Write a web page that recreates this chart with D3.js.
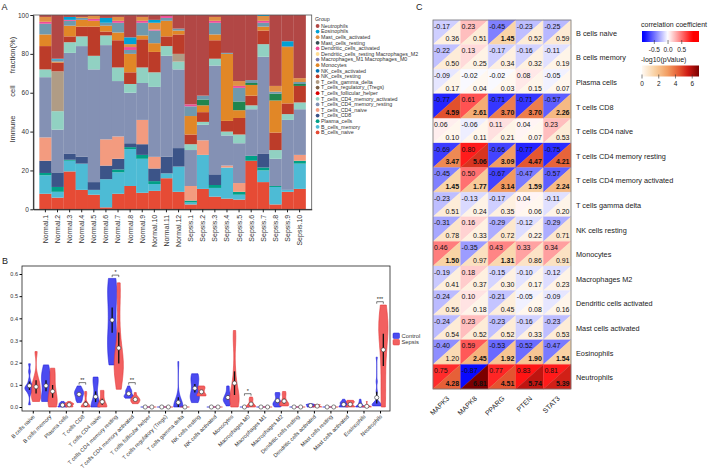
<!DOCTYPE html>
<html><head><meta charset="utf-8">
<script src="https://cdn.jsdelivr.net/npm/d3@7"></script>
<style>
body{margin:0;background:#fff;}
svg{font-family:"Liberation Sans",Arial,sans-serif;}
</style></head><body>
<svg id="chart" width="708" height="471"></svg>
<script>
// ---------------- DATA ----------------
const samples = ["Normal.1","Normal.2","Normal.3","Normal.4","Normal.5","Normal.6","Normal.7","Normal.8","Normal.9","Normal.10","Normal.11","Normal.12",
  "Sepsis.1","Sepsis.2","Sepsis.3","Sepsis.4","Sepsis.5","Sepsis.6","Sepsis.7","Sepsis.8","Sepsis.9","Sepsis.10"];

// immune cell fractions (%) per sample
const B_cells_naive = [8,6,19.5,10,7.5,1,8,12,8.5,9.5,16,9, 2.5,10.5,6.5,5.5,5,25,14,2.5,9,10.5];
const B_cells_memory = [9.5,3,5.5,13.5,2.5,14.5,11,19,17.5,3.5,2.5,13, 1,17.5,4.5,16,2.5,0,6,9,1,13];
const Plasma_cells = [1.2,2.5,0.5,0,0,0,1.5,1,2,1.5,0,0, 1,0,1.5,0,1.5,2.5,1.5,0.5,0,1.5];
const T_cells_CD8 = [6.3,7.5,3,3.5,4,7,5.5,2,5.5,6.5,8.5,9.5, 0,0,5.5,0,0,0,7,0,0,0];
const T_cells_CD4_naive = [12,0,0,0,0,13.5,11.5,0,12.5,6,0,0, 7.5,7.5,0,1,4.5,0,0,0,0,3];
const T_cells_CD4_memory_resting = [31,22,52,57,58,48.5,28.5,26,19,36,52,40.5, 18.5,8,56,15.5,20.5,24,50,14,36,23.5];
const T_cells_CD4_memory_activated = [4,9.5,5.5,5,7,5,7,4.5,8,7.5,5,4, 3,1.5,3.5,2,4.5,2,6.5,4.5,3,3.5];
const T_cells_follicular_helper = [0,0,0,0,0,0,0,0,0,0,0,0, 0,0,0,0,0,0,0,0,0,0];
const T_cells_regulatory_Tregs = [0,0,0,0,0,0,0,0,0,0,0,0, 0,0,0,0,0,0,0,0,0,0];
const T_cells_gamma_delta = [0,20.5,0,0,0,0,0,0,0,0,0,4, 0,0,0,0,0,0,0,0,0,0];
const NK_cells_resting = [12,4.5,3,5,15,2,14,6,14.5,10.5,5,10, 5,5,9.5,5.5,8.5,5,7,9,5.5,8.5];
const NK_cells_activated = [0,0,0,0,0,0,0,0,0,0,0,0, 0,0,0,0,0,0,0,0,0,0];
const Monocytes = [6,0.5,5.5,3.5,3,3,4,9.5,2,4.5,8,2, 9.5,3.5,3,34.5,4,5.5,2,16.5,29,0];
const Macrophages_M0 = [0,0,0,0,0,0,0,0,0,0,0,0, 0,3,0,0,4.5,1,0,3.5,0,1];
const Macrophages_M1 = [0,0,0,0,0,0,0,0,0,0,0,0, 0,0,0,0,0,0,0,0,0,0];
const Macrophages_M2 = [5.5,1,2.5,1,0,1.5,5,2,6.5,6.5,1.5,1, 5,2,6,0.5,7,1.5,2,1,0.5,1];
const Dendritic_cells_resting = [0,0,0,0,0,0,0,0,0,0,0,0, 0,0,0,0,0,0,0,0,0,0];
const Dendritic_cells_activated = [1,0,0.5,0,1,0,1,1.5,1,0.5,1,0, 1,0,1,0,1,0,1,0,0,0];
const Mast_cells_resting = [0,0,0,0,0,0,0,0,0,0,0,0, 0,0,0,0,0,0,0,0,0,0];
const Mast_cells_activated = [2.5,0,0,0.5,1.5,0,2,1.5,2,3.5,0,0, 0,0,2,0,2.5,0,2.5,3,0,2];
const Eosinophils = [0,0.5,1.5,0,0,2.5,0,3.5,0,1.5,0,0, 0,0,0,0,0,0,0.5,0,2.5,0];
const Neutrophils = [1,22.5,1,1,0.5,1.5,1,11.5,1,2.5,0.5,7, 46,41.5,1,19.5,34,33.5,0,36.5,13.5,32.5];

const cellTypes = ["B_cells_naive","B_cells_memory","Plasma_cells","T_cells_CD8","T_cells_CD4_naive","T_cells_CD4_memory_resting",
  "T_cells_CD4_memory_activated","T_cells_follicular_helper","T_cells_regulatory_(Tregs)","T_cells_gamma_delta","NK_cells_resting",
  "NK_cells_activated","Monocytes","Macrophages_M0","Macrophages_M1","Macrophages_M2","Dendritic_cells_resting",
  "Dendritic_cells_activated","Mast_cells_resting","Mast_cells_activated","Eosinophils","Neutrophils"];
const cellValues = [B_cells_naive,B_cells_memory,Plasma_cells,T_cells_CD8,T_cells_CD4_naive,T_cells_CD4_memory_resting,
  T_cells_CD4_memory_activated,T_cells_follicular_helper,T_cells_regulatory_Tregs,T_cells_gamma_delta,NK_cells_resting,
  NK_cells_activated,Monocytes,Macrophages_M0,Macrophages_M1,Macrophages_M2,Dendritic_cells_resting,
  Dendritic_cells_activated,Mast_cells_resting,Mast_cells_activated,Eosinophils,Neutrophils];
const cellColors = ["#E64B35","#4DBBD5","#00A087","#3C5488","#F39B7F","#8491B4","#91D1C2","#DC0000","#7E6148","#B09C85",
  "#BC3C29","#0072B5","#E18727","#20854E","#7876B1","#6F99AD","#FFDC91","#EE4C97","#374E55","#DF8F44","#00A1D5","#B24745"];
const violinLabels = ["B cells naive","B cells memory","Plasma cells","T cells CD8","T cells CD4 naive","T cells CD4 memory resting",
  "T cells CD4 memory activated","T cells follicular helper","T cells regulatory (Tregs)","T cells gamma delta","NK cells resting",
  "NK cells activated","Monocytes","Macrophages M0","Macrophages M1","Macrophages M2","Dendritic cells resting",
  "Dendritic cells activated","Mast cells resting","Mast cells activated","Eosinophils","Neutrophils"];

// legend rows of panel A (as printed)
const legendLabels = ["Neutrophils","Eosinophils","Mast_cells_activated","Mast_cells_resting","Dendritic_cells_activated",
  "Dendritic_cells_resting Macrophages_M2","Macrophages_M1 Macrophages_M0","Monocytes","NK_cells_activated","NK_cells_resting",
  "T_cells_gamma_delta","T_cells_regulatory_(Tregs)","T_cells_follicular_helper","T_cells_CD4_memory_activated",
  "T_cells_CD4_memory_resting","T_cells_CD4_naive","T_cells_CD8","Plasma_cells","B_cells_memory","B_cells_naive"];
const legendKeys = ["Neutrophils","Eosinophils","Mast_cells_activated","Mast_cells_resting","Dendritic_cells_activated",
  "Dendritic_cells_resting","Macrophages_M1","Monocytes","NK_cells_activated","NK_cells_resting",
  "T_cells_gamma_delta","T_cells_regulatory_(Tregs)","T_cells_follicular_helper","T_cells_CD4_memory_activated",
  "T_cells_CD4_memory_resting","T_cells_CD4_naive","T_cells_CD8","Plasma_cells","B_cells_memory","B_cells_naive"];

// significance (panel B)
const sigCells = ["T cells CD8","T cells CD4 memory resting","T cells CD4 memory activated","Macrophages M0","Neutrophils"];
const sigMarks = ["**","*","**","*","***"];
const groupNames = ["Control","Sepsis"];
const groupColors = ["#4B4BF0","#F26060"];
const groupStrokes = ["#1E1ED8","#E23636"];

// heatmap (panel C)
const heatRows = ["B cells naive","B cells memory","Plasma cells","T cells CD8","T cells CD4 naive","T cells CD4 memory resting",
  "T cells CD4 memory activated","T cells gamma delta","NK cells resting","Monocytes","Macrophages M2",
  "Dendritic cells activated","Mast cells activated","Eosinophils","Neutrophils"];
const genes = ["MAPK3","MAPK8","PPARG","PTEN","STAT3"];
const corr_MAPK3 = [-0.17,-0.22,-0.09,-0.77,0.06,-0.69,-0.45,-0.23,-0.31,0.46,-0.19,-0.24,-0.24,-0.40,0.75];
const corr_MAPK8 = [0.23,0.13,-0.02,0.61,-0.06,0.80,0.50,-0.13,0.16,-0.35,0.18,0.10,0.23,0.59,-0.87];
const corr_PPARG = [-0.45,-0.17,-0.02,-0.71,0.11,-0.66,-0.67,-0.17,-0.29,0.43,-0.15,-0.21,-0.23,-0.53,0.77];
const corr_PTEN = [-0.23,-0.16,0.08,-0.71,0.04,-0.77,-0.47,0.04,-0.12,0.33,-0.10,-0.05,-0.16,-0.52,0.83];
const corr_STAT3 = [-0.25,-0.11,-0.05,-0.57,0.23,-0.75,-0.57,-0.11,-0.29,0.34,-0.12,-0.09,-0.23,-0.47,0.81];
const logp_MAPK3 = [0.36,0.50,0.17,4.59,0.10,3.47,1.45,0.51,0.78,1.50,0.41,0.56,0.54,1.20,4.28];
const logp_MAPK8 = [0.51,0.25,0.04,2.61,0.11,5.06,1.77,0.24,0.33,0.97,0.37,0.18,0.52,2.45,6.81];
const logp_PPARG = [1.45,0.34,0.03,3.70,0.21,3.09,3.14,0.35,0.72,1.31,0.30,0.45,0.52,1.92,4.51];
const logp_PTEN = [0.52,0.32,0.15,3.70,0.07,4.47,1.59,0.06,0.22,0.86,0.17,0.08,0.33,1.90,5.74];
const logp_STAT3 = [0.59,0.19,0.07,2.26,0.53,4.21,2.24,0.20,0.71,0.91,0.23,0.16,0.53,1.54,5.39];
const corrCols = [corr_MAPK3,corr_MAPK8,corr_PPARG,corr_PTEN,corr_STAT3];
const logpCols = [logp_MAPK3,logp_MAPK8,logp_PPARG,logp_PTEN,logp_STAT3];
const corrTicks = [-0.5,0,0.5];
const logpTicks = [0,2,4,6];

// ---------------- DRAW ----------------
const FONT = "'Liberation Sans', Arial, sans-serif";
const svg = d3.select("#chart");
const defs = svg.append("defs");

function panelLabel(t,x,y){ svg.append("text").attr("x",x).attr("y",y).text(t).attr("font-size",9).attr("fill","#222"); }
panelLabel("A",1.5,9.5); panelLabel("B",2,263.5); panelLabel("C",416,9.5);

// ===== Panel A =====
const A = {l:33.3, r:311.7, t:15, b:209.3};
const xA = d3.scaleBand().domain(samples).range([A.l, A.r]).paddingInner(0).paddingOuter(0.5);
const yA = d3.scaleLinear().domain([0,100]).range([A.b, A.t]);
const rowsA = samples.map((s,i)=>{ const o={sample:s}; cellTypes.forEach((c,k)=>o[c]=cellValues[k][i]); return o; });
const stacked = d3.stack().keys(cellTypes)(rowsA);
const colorOf = d3.scaleOrdinal().domain(cellTypes).range(cellColors);
svg.append("g").selectAll("g").data(stacked).join("g").attr("fill",d=>colorOf(d.key))
  .selectAll("rect").data(d=>d).join("rect")
  .attr("x",d=>xA(d.data.sample)).attr("width",xA.bandwidth()+0.2)
  .attr("y",d=>yA(d[1])).attr("height",d=>Math.max(0,yA(d[0])-yA(d[1])));
svg.append("rect").attr("x",A.l).attr("y",A.t).attr("width",A.r-A.l).attr("height",A.b-A.t)
  .attr("fill","none").attr("stroke","#555").attr("stroke-width",0.8);
svg.append("g").attr("transform",`translate(${A.l},0)`)
  .call(d3.axisLeft(yA).tickValues([0,20,40,60,80,100]).tickSize(3).tickSizeOuter(0).tickPadding(1.5))
  .call(g=>{ g.attr("font-family",FONT).attr("font-size",6.5); g.selectAll("text").attr("fill","#333");
    g.select(".domain").attr("stroke","#222"); g.selectAll(".tick line").attr("stroke","#222"); });
svg.append("g").attr("transform",`translate(0,${A.b})`)
  .call(d3.axisBottom(xA).tickSize(3).tickSizeOuter(0))
  .call(g=>{ g.attr("font-family",FONT).attr("font-size",7); g.select(".domain").attr("stroke","#222");
    g.selectAll(".tick line").attr("stroke","#222");
    g.selectAll("text").attr("fill","#333").attr("transform","rotate(-90)").attr("x",-5.5).attr("y",0)
      .attr("dy","0.35em").attr("text-anchor","end"); });
// y title
const yt = svg.append("text").attr("transform","translate(14.5,0) rotate(-90)").attr("font-size",7.5)
  .attr("fill","#333").attr("text-anchor","middle");
[["Immune",-129],["cell",-91],["fraction(%)",-55]].forEach(([t,x])=>yt.append("tspan").attr("x",x).attr("y",0).text(t));
// legend
const lg = svg.append("g").attr("font-size",5.3).attr("fill","#333");
lg.append("text").attr("x",315).attr("y",20.5).text("Group");
legendLabels.forEach((lab,i)=>{
  const y = 26 + i*5.6;
  lg.append("circle").attr("cx",317.6).attr("cy",y).attr("r",1.9).attr("fill",colorOf(legendKeys[i]));
  lg.append("text").attr("x",321).attr("y",y+1.8).text(lab);
});

// ===== Panel B =====
const B = {l:22, r:390, t:266, b:411};
const xB = d3.scalePoint().domain(violinLabels).range([24.5, 388.3]).padding(0.5);
const yB = d3.scaleLinear().domain([0,0.6]).range([407,274]);
const dodge = 3.3, halfW = 4.6;
const sampleGroup = samples.map(s=>s.startsWith("Normal") ? "Control" : "Sepsis");
function bwNrd0(x){
  const n=x.length, sd=d3.deviation(x)||0, s=x.slice().sort(d3.ascending);
  const iqr=d3.quantileSorted(s,0.75)-d3.quantileSorted(s,0.25);
  let lo=Math.min(sd, iqr/1.34);
  if(!lo){ lo = sd || Math.abs(s[0]) || 1; }
  return 0.9*lo*Math.pow(n,-0.2);
}
const gauss = u=>Math.exp(-0.5*u*u)/Math.sqrt(2*Math.PI);
const gB = svg.append("g");
const violinStats = {};
violinLabels.forEach((lab,k)=>{
  violinStats[lab] = [];
  groupNames.forEach((gname,gi)=>{
    const vals = cellValues[k].filter((v,i)=>sampleGroup[i]===gname).map(v=>v/100);
    const cx = xB(lab) + (gi===0 ? -dodge : dodge);
    const mn=d3.min(vals), mx=d3.max(vals);
    const m = d3.mean(vals), se = (d3.deviation(vals)||0)/Math.sqrt(vals.length);
    violinStats[lab].push({mx, cx});
    if(mx-mn < 1e-9){
      gB.append("line").attr("x1",cx-halfW).attr("x2",cx+halfW).attr("y1",yB(mn)).attr("y2",yB(mn))
        .attr("stroke",groupStrokes[gi]).attr("stroke-width",0.8);
    } else {
      const bw=bwNrd0(vals), N=90;
      const pts=d3.range(N+1).map(i=>{ const y=mn+(mx-mn)*i/N; return {y, d:d3.mean(vals,v=>gauss((y-v)/bw))/bw}; });
      const md=d3.max(pts,p=>p.d);
      const area=d3.area().y(p=>yB(p.y)).x0(p=>cx-halfW*p.d/md).x1(p=>cx+halfW*p.d/md);
      gB.append("path").attr("d",area(pts)).attr("fill",groupColors[gi]).attr("stroke",groupStrokes[gi]).attr("stroke-width",0.6);
    }
    gB.append("line").attr("x1",cx).attr("x2",cx).attr("y1",yB(Math.max(0,m-1.4*se))).attr("y2",yB(m+1.4*se))
      .attr("stroke","#111").attr("stroke-width",1.3);
    gB.append("circle").attr("cx",cx).attr("cy",yB(m)).attr("r",2.1).attr("fill","#fff").attr("stroke","#333").attr("stroke-width",0.6);
  });
});
// significance brackets
sigCells.forEach((lab,i)=>{
  const st = violinStats[lab];
  const top = d3.max(st,s=>s.mx) + 0.015;
  const y = yB(top);
  gB.append("path").attr("d",`M${st[0].cx},${y+2}V${y}H${st[1].cx}V${y+2}`).attr("fill","none").attr("stroke","#222").attr("stroke-width",0.6);
  gB.append("text").attr("x",xB(lab)).attr("y",y-0.8).attr("text-anchor","middle").attr("font-size",5.5).attr("fill","#222").text(sigMarks[i]);
});
svg.append("rect").attr("x",B.l).attr("y",B.t).attr("width",B.r-B.l).attr("height",B.b-B.t)
  .attr("fill","none").attr("stroke","#222").attr("stroke-width",0.8);
svg.append("g").attr("transform",`translate(${B.l},0)`)
  .call(d3.axisLeft(yB).tickValues([0,0.1,0.2,0.3,0.4,0.5,0.6]).tickFormat(d3.format(".1f")).tickSize(2.5).tickSizeOuter(0).tickPadding(1.5))
  .call(g=>{ g.attr("font-family",FONT).attr("font-size",5.5); g.select(".domain").remove(); g.selectAll("text").attr("fill","#333"); });
svg.append("g").attr("transform",`translate(0,${B.b})`)
  .call(d3.axisBottom(xB).tickSize(2.5).tickSizeOuter(0))
  .call(g=>{ g.attr("font-family",FONT).attr("font-size",5.5); g.select(".domain").remove();
    g.selectAll("text").attr("fill","#333").attr("text-anchor","end").attr("y",0).attr("dy",0)
      .attr("transform","translate(2,6) rotate(-45)"); });
// legend B
groupNames.forEach((gname,gi)=>{
  const y = 333 + gi*6.5;
  svg.append("rect").attr("x",393).attr("y",y).attr("width",6.5).attr("height",5.5).attr("rx",1)
    .attr("fill",groupColors[gi]).attr("stroke",groupStrokes[gi]).attr("stroke-width",0.5);
  svg.append("text").attr("x",401.5).attr("y",y+4.8).attr("font-size",5.8).attr("fill","#333").text(gname);
});

// ===== Panel C =====
const C = {l:433, r:571, t:20, b:389};
const xC = d3.scaleBand().domain(genes).range([C.l, C.r]);
const yC = d3.scaleBand().domain(heatRows).range([C.t, C.b]);
const corrColor = d3.scaleLinear().domain([-0.9,0,0.9]).range(["#0000FF","#FFFFFF","#FF0000"]).clamp(true);
const pColor = d3.scaleLinear().domain([0,1.5,3,4.5,5.5,6.81])
  .range(["#FFF9F2","#F9D3A5","#F3A064","#E45530","#CF1A14","#7A0000"]).clamp(true);
const gC = svg.append("g");
genes.forEach((gene,j)=>{
  heatRows.forEach((row,i)=>{
    const x0=xC(gene), x1=x0+xC.bandwidth(), y0=yC(row), y1=y0+yC.bandwidth();
    const r=corrCols[j][i], p=logpCols[j][i];
    gC.append("path").attr("d",`M${x0},${y0}H${x1}L${x0},${y1}Z`).attr("fill",corrColor(r)).attr("stroke",corrColor(r)).attr("stroke-width",0.3);
    gC.append("path").attr("d",`M${x1},${y0}V${y1}H${x0}Z`).attr("fill",pColor(p)).attr("stroke",pColor(p)).attr("stroke-width",0.3);
    gC.append("text").attr("x",x0+1).attr("y",y0+8.5).attr("font-size",7).attr("fill","#111").text(r.toFixed(2));
    gC.append("text").attr("x",x1-1.5).attr("y",y1-3.2).attr("font-size",7).attr("text-anchor","end")
      .attr("font-weight",p>1.3?"bold":"normal").attr("fill","#111").text(p.toFixed(2));
  });
});
svg.append("rect").attr("x",C.l).attr("y",C.t).attr("width",C.r-C.l).attr("height",C.b-C.t)
  .attr("fill","none").attr("stroke","#777").attr("stroke-width",0.8);
heatRows.forEach(row=>{
  svg.append("text").attr("x",576).attr("y",yC(row)+yC.bandwidth()/2+3.5).attr("font-size",7.3).attr("fill","#222").text(row);
});
genes.forEach(g=>{
  svg.append("text").attr("transform",`translate(${xC(g)+xC.bandwidth()/2+3},${C.b+10}) rotate(-45)`)
    .attr("text-anchor","end").attr("font-size",7).attr("fill","#222").text(g);
});
// legends C
function gradLegend(id, title, scaleCol, dom, ticks, y){
  const lx=642, lw=57, lh=11;
  const xs = d3.scaleLinear().domain(dom).range([lx, lx+lw]);
  const grad = defs.append("linearGradient").attr("id",id);
  d3.range(0,1.0001,0.05).forEach(t=>grad.append("stop").attr("offset",t).attr("stop-color",scaleCol(dom[0]+(dom[1]-dom[0])*t)));
  svg.append("text").attr("x",641).attr("y",y-4).attr("font-size",7).attr("fill","#222").text(title);
  svg.append("rect").attr("x",lx).attr("y",y).attr("width",lw).attr("height",lh).attr("fill",`url(#${id})`);
  ticks.forEach(t=>{
    svg.append("line").attr("x1",xs(t)).attr("x2",xs(t)).attr("y1",y+lh-2).attr("y2",y+lh+2).attr("stroke","#333").attr("stroke-width",0.6);
    svg.append("text").attr("x",xs(t)).attr("y",y+lh+9.5).attr("text-anchor","middle").attr("font-size",6.5).attr("fill","#222")
      .text(t===0 && dom[0]<0 ? "0.0" : (Number.isInteger(t) && dom[0]>=0 ? t : t.toFixed(1)));
  });
}
gradLegend("gcorr","correlation coefficient",corrColor,[-0.95,1.13],corrTicks,31);
gradLegend("gp","-log10(pValue)",pColor,[0,6.81],logpTicks,65.5);
</script>
</body></html>
